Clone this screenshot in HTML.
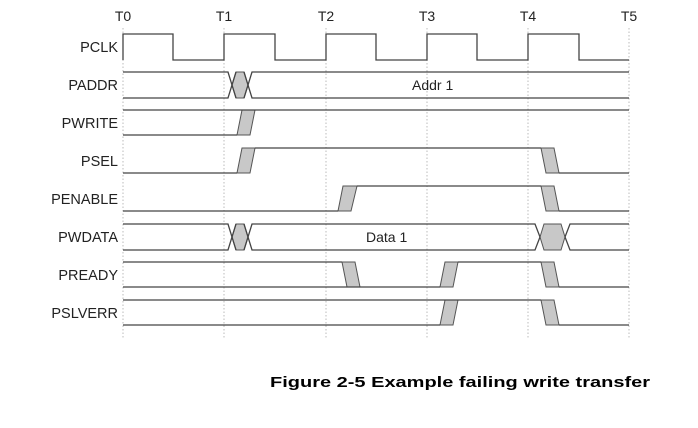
<!DOCTYPE html>
<html><head><style>html,body{margin:0;padding:0;background:#fff;width:698px;height:428px;overflow:hidden}</style></head>
<body>
<svg width="698" height="428" viewBox="0 0 698 428" xmlns="http://www.w3.org/2000/svg" font-family="Liberation Sans, sans-serif">
<g stroke="#bbb" stroke-width="1" stroke-dasharray="1.5,2">
<line x1="123" y1="28" x2="123" y2="338"/><line x1="224" y1="28" x2="224" y2="338"/><line x1="326" y1="28" x2="326" y2="338"/><line x1="427" y1="28" x2="427" y2="338"/><line x1="528" y1="28" x2="528" y2="338"/><line x1="629" y1="28" x2="629" y2="338"/>
</g>
<g font-size="14" fill="#222" text-anchor="middle">
<text x="123" y="21">T0</text><text x="224" y="21">T1</text><text x="326" y="21">T2</text><text x="427" y="21">T3</text><text x="528" y="21">T4</text><text x="629" y="21">T5</text>
</g>
<g font-size="14.5" fill="#222" text-anchor="end">
<text x="118" y="52">PCLK</text><text x="118" y="90">PADDR</text><text x="118" y="128">PWRITE</text><text x="118" y="166">PSEL</text><text x="118" y="204">PENABLE</text><text x="118" y="242">PWDATA</text><text x="118" y="280">PREADY</text><text x="118" y="318">PSLVERR</text>
</g>
<g fill="#c8c8c8" stroke="#555" stroke-width="1">
<polygon points="232,85 236,72 244,72 248,85 244,98 236,98"/>
<polygon points="232,237 236,224 244,224 248,237 244,250 236,250"/>
<polygon points="540,237 544,224 561,224 565,237 561,250 544,250"/>
<polygon points="237,135 242,110 255,110 250,135"/>
<polygon points="237,173 242,148 255,148 250,173"/>
<polygon points="338,211 343,186 357,186 351,211"/>
<polygon points="541,148 554,148 559,173 546,173"/>
<polygon points="541,186 554,186 559,211 546,211"/>
<polygon points="342,262 355,262 360,287 347,287"/>
<polygon points="541,262 554,262 559,287 546,287"/>
<polygon points="440,287 445,262 458,262 453,287"/>
<polygon points="541,300 554,300 559,325 546,325"/>
<polygon points="440,325 445,300 458,300 453,325"/>
</g>
<g fill="none" stroke="#444" stroke-width="1.3">
<polyline points="123,60 123,34 173,34 173,60 224,60 224,34 275,34 275,60 326,60 326,34 376,34 376,60 427,60 427,34 477,34 477,60 528,60 528,34 579,34 579,60 629,60"/>
<polyline points="123,72 228,72 236,98"/><polyline points="123,98 228,98 236,72"/>
<polyline points="244,72 252,98 629,98"/><polyline points="244,98 252,72 629,72"/>
<polyline points="123,224 228,224 236,250"/><polyline points="123,250 228,250 236,224"/>
<polyline points="244,224 252,250 535,250 540,237"/><polyline points="244,250 252,224 535,224 540,237"/>
<polyline points="565,237 570,224 629,224"/><polyline points="565,237 570,250 629,250"/>
<line x1="123" y1="110" x2="629" y2="110"/><line x1="123" y1="135" x2="237" y2="135"/>
<line x1="123" y1="173" x2="237" y2="173"/><line x1="255" y1="148" x2="541" y2="148"/><line x1="559" y1="173" x2="629" y2="173"/>
<line x1="123" y1="211" x2="338" y2="211"/><line x1="357" y1="186" x2="541" y2="186"/><line x1="559" y1="211" x2="629" y2="211"/>
<line x1="123" y1="262" x2="342" y2="262"/><line x1="123" y1="287" x2="440" y2="287"/><line x1="458" y1="262" x2="541" y2="262"/><line x1="559" y1="287" x2="629" y2="287"/>
<line x1="123" y1="300" x2="541" y2="300"/><line x1="123" y1="325" x2="440" y2="325"/><line x1="559" y1="325" x2="629" y2="325"/>
</g>
<g font-size="14" fill="#222">
<text x="412" y="90">Addr 1</text>
<text x="366" y="242">Data 1</text>
</g>
<text x="270" y="387" font-size="14.5" font-weight="bold" fill="#000" textLength="380" lengthAdjust="spacingAndGlyphs">Figure 2-5 Example failing write transfer</text>
</svg>
</body></html>
